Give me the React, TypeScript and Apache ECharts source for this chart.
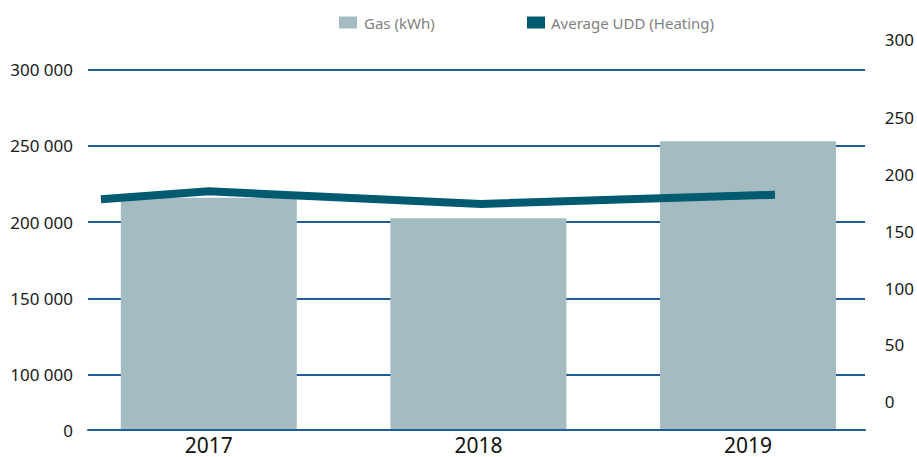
import React, { useEffect, useRef } from "react";
import * as echarts from "echarts";

const categories = ["2017", "2018", "2019"];
const gasValues = [216000, 202500, 253000];
// UDD line: positions in category units (0 = 2017 centre) and values
const uddPositions = [-0.4, 0, 1.01, 2.1];
const uddValues = [178, 185, 174, 182];

const leftAxisMin = 63760;
const leftAxisMax = 300000;
const leftTickValues = [63760, 100000, 150000, 200000, 250000, 300000];
const leftTickLabels = ["0", "100 000", "150 000", "200 000", "250 000", "300 000"];

const rightAxisMin = -24.9;
const rightAxisMax = 292.2;
const rightTickValues = [0, 50, 100, 150, 200, 250];
const rightTopLabel = "300";

const FONT = "Noto Sans";
const GRID_BLUE = "#1f5c9a";
const BAR_COLOR = "#a4bcc1";
const LINE_COLOR = "#005a70";

export default function App() {
  const ref = useRef<HTMLDivElement>(null);
  useEffect(() => {
    if (!ref.current) return;
    const chart = echarts.init(ref.current, null, { renderer: "svg" });
    const option: any = {
      animation: false,
      textStyle: { fontFamily: FONT },
      legend: [
        {
          left: 334,
          top: 10,
          itemWidth: 18,
          itemHeight: 12,
          icon: "rect",
          data: ["Gas (kWh)"],
          textStyle: { color: "#808080", fontSize: 15, fontFamily: FONT, padding: [0, 0, 0, 2] },
        },
        {
          left: 522,
          top: 10,
          itemWidth: 18,
          itemHeight: 12,
          icon: "rect",
          data: ["Average UDD (Heating)"],
          textStyle: { color: "#808080", fontSize: 15, fontFamily: FONT, padding: [0, 0, 0, 1] },
        },
      ],
      grid: [
        { left: 88, right: 52, top: 69.5, bottom: 27 },
        { left: 74, right: 33, top: 69.5, bottom: 27 },
      ],
      xAxis: [
        {
          type: "category",
          gridIndex: 0,
          data: categories,
          z: 10,
          axisLine: { show: true, lineStyle: { color: GRID_BLUE, width: 2 } },
          axisTick: { show: false },
          axisLabel: { show: false },
          splitLine: { show: false },
        },
        {
          type: "category",
          gridIndex: 1,
          data: categories,
          axisLine: { show: false },
          axisTick: { show: false },
          axisLabel: { color: "#111", fontSize: 21, lineHeight: 21, fontFamily: FONT, margin: 4 },
        },
        {
          type: "value",
          gridIndex: 1,
          min: -0.5,
          max: 2.5,
          show: false,
        },
      ],
      yAxis: [
        {
          type: "value",
          gridIndex: 0,
          min: leftAxisMin,
          max: leftAxisMax,
          axisLine: { show: false },
          axisTick: { show: false, customValues: leftTickValues },
          axisLabel: {
            customValues: leftTickValues,
            color: "#1a1a1a",
            fontSize: 17,
            fontFamily: FONT,
            margin: 15,
            formatter: (v: number) => {
              const i = leftTickValues.indexOf(v);
              return i >= 0 ? leftTickLabels[i] : "";
            },
          },
          splitLine: { show: true, lineStyle: { color: GRID_BLUE, width: 2 } },
        },
        {
          type: "value",
          gridIndex: 1,
          min: leftAxisMin,
          max: leftAxisMax,
          show: false,
          splitLine: { show: false },
        },
        {
          type: "value",
          gridIndex: 1,
          position: "right",
          min: rightAxisMin,
          max: rightAxisMax,
          name: rightTopLabel,
          nameLocation: "end",
          nameGap: 30.2,
          nameTextStyle: {
            color: "#1a1a1a",
            fontSize: 17,
            fontFamily: FONT,
            align: "left",
            verticalAlign: "middle",
            padding: [0, 0, 0, 2],
          },
          axisLine: { show: false },
          axisTick: { show: false, customValues: rightTickValues },
          axisLabel: {
            customValues: rightTickValues,
            color: "#1a1a1a",
            fontSize: 17,
            fontFamily: FONT,
            margin: 2,
          },
          splitLine: { show: false },
        },
      ],
      series: [
        {
          name: "Gas (kWh)",
          type: "bar",
          xAxisIndex: 1,
          yAxisIndex: 1,
          barWidth: 176,
          data: gasValues,
          itemStyle: { color: BAR_COLOR },
          z: 2,
        },
        {
          name: "Average UDD (Heating)",
          type: "line",
          xAxisIndex: 2,
          yAxisIndex: 2,
          data: uddPositions.map((p, i) => [p, uddValues[i]]),
          symbol: "none",
          itemStyle: { color: LINE_COLOR },
          lineStyle: { color: LINE_COLOR, width: 8, cap: "butt", join: "miter" },
          z: 4,
        },
      ],
    };
    chart.setOption(option);
    return () => chart.dispose();
  }, []);
  return (
    <div
      ref={ref}
      style={{ position: "fixed", left: 0, top: 0, width: 917, height: 457, background: "#fff" }}
    />
  );
}
